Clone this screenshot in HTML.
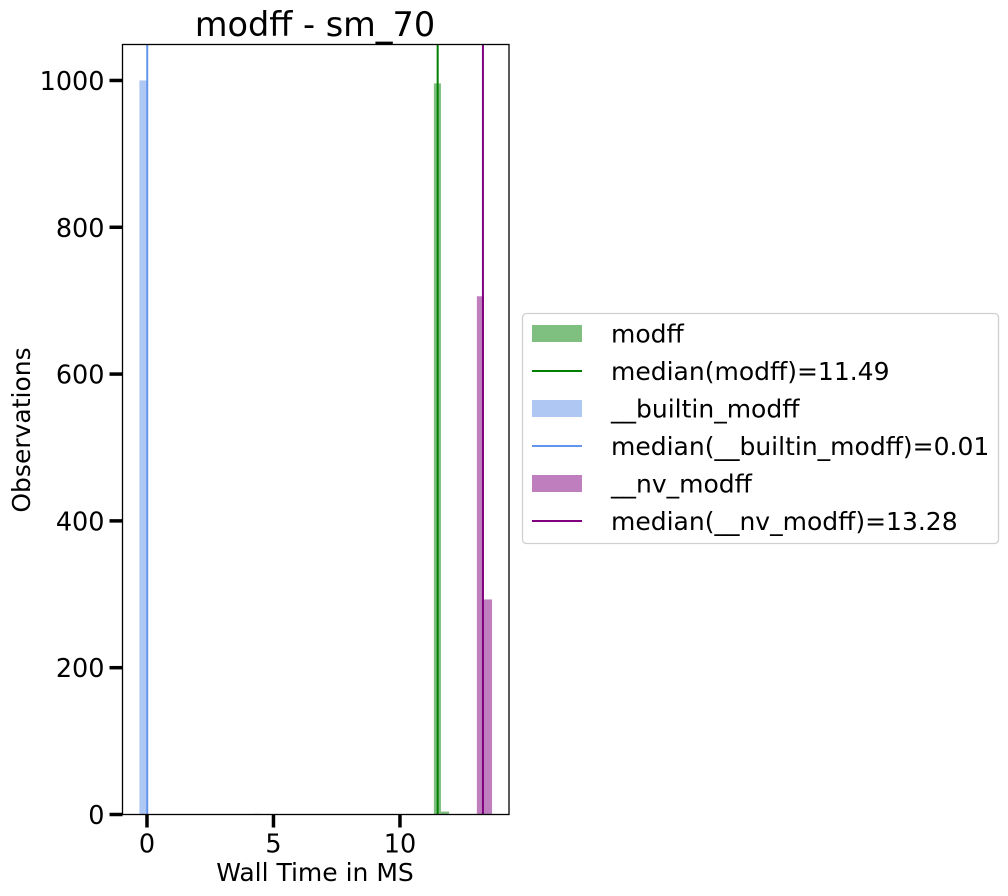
<!DOCTYPE html>
<html><head><meta charset="utf-8"><style>
body{margin:0;background:#fff;}
svg{display:block;font-family:"DejaVu Sans","Liberation Sans",sans-serif;}
</style></head><body>
<svg id="chart" width="1008" height="896" viewBox="0 0 1008 896">
<rect width="1008" height="896" fill="#fff"/>
<text x="315" y="36" font-size="33.5" text-anchor="middle">modff - sm_70</text>
<g id="bars"></g>
<g id="medians"></g>
<rect x="122.5" y="44.5" width="386.5" height="770" fill="none" stroke="#000" stroke-width="1.3"/>
<g id="xaxis"></g>
<g id="yaxis"></g>
<text x="315" y="881" font-size="25" text-anchor="middle">Wall Time in MS</text>
<text x="30" y="430" font-size="25" text-anchor="middle" transform="rotate(-90 30 430)">Observations</text>
<g>
<rect x="522.5" y="313.5" width="476" height="230" rx="4" fill="#fff" stroke="#d0d0d0" stroke-width="1.3"/>
<g id="legend-items"></g>
</g>
</svg>
<script>
const seriesNames=["modff","__builtin_modff","__nv_modff"];
const seriesColors=["#7fbf7f","#aec7f3","#bf7fbf"];
const medianColors=["#008000","#6495ed","#800080"];
const medians=[11.49,0.01,13.28];
const binLeft=[[11.34,11.62],[-0.3,4.23],[13.04,13.32]];
const binRight=[[11.62,11.94],[0.0,4.5],[13.32,13.64]];
const counts=[[996,4],[1000,1],[706,293]];
const xTicks=[0,5,10];
const yTicks=[0,200,400,600,800,1000];
const xMin=-0.968,xMax=14.31,yMin=0,yMax=1049;
const L=122.5,R=509,T=44.5,B=814.5;
const xs=v=>L+(v-xMin)/(xMax-xMin)*(R-L);
const ys=v=>B-(v-yMin)/(yMax-yMin)*(B-T);
const NS="http://www.w3.org/2000/svg";
function mk(tag,attrs,parent){const e=document.createElementNS(NS,tag);for(const k in attrs)e.setAttribute(k,attrs[k]);parent.appendChild(e);return e;}
const bars=document.getElementById('bars'),meds=document.getElementById('medians');
const order=[1,0,2];
order.forEach(s=>{
  counts[s].forEach((c,i)=>{
    const r=mk('rect',{x:xs(binLeft[s][i]),y:ys(c),width:xs(binRight[s][i])-xs(binLeft[s][i]),height:ys(0)-ys(c),fill:seriesColors[s]},bars);
    
    
  });
});
medians.forEach((m,s)=>{
  const l=mk('line',{x1:xs(m),x2:xs(m),y1:T,y2:B,stroke:medianColors[s],'stroke-width':2},meds);
  
  
});
const xa=document.getElementById('xaxis'),ya=document.getElementById('yaxis');
xTicks.forEach(t=>{
  const l=mk('line',{x1:xs(t),x2:xs(t),y1:B,y2:B+13,stroke:'#000','stroke-width':3.5},xa);
  
  
  const tx=mk('text',{x:xs(t),y:B+38,'font-size':25.5,'text-anchor':'middle'},xa);
  tx.textContent=t;
  
  
});
yTicks.forEach(t=>{
  const l=mk('line',{x1:L-13,x2:L,y1:ys(t),y2:ys(t),stroke:'#000','stroke-width':3.5},ya);
  
  
  const tx=mk('text',{x:L-18,y:ys(t)+9.5,'font-size':25.5,'text-anchor':'end'},ya);
  tx.textContent=t;
  
  
});
const li=document.getElementById('legend-items');
const labels=[];
seriesNames.forEach((n,s)=>{labels.push(['patch',s,n]);labels.push(['line',s,'median('+n+')='+medians[s].toFixed(2)]);});
labels.forEach((e,i)=>{
  const cy=333.5+i*37.5;
  let m;
  if(e[0]==='patch') m=mk('rect',{x:532,y:cy-8.5,width:50,height:17,fill:seriesColors[e[1]]},li);
  else m=mk('line',{x1:532,x2:582,y1:cy,y2:cy,stroke:medianColors[e[1]],'stroke-width':2},li);
  
  
  const t=mk('text',{x:611,y:cy+9,'font-size':25},li);
  t.textContent=e[2];
  
  
});
</script>
</body></html>
